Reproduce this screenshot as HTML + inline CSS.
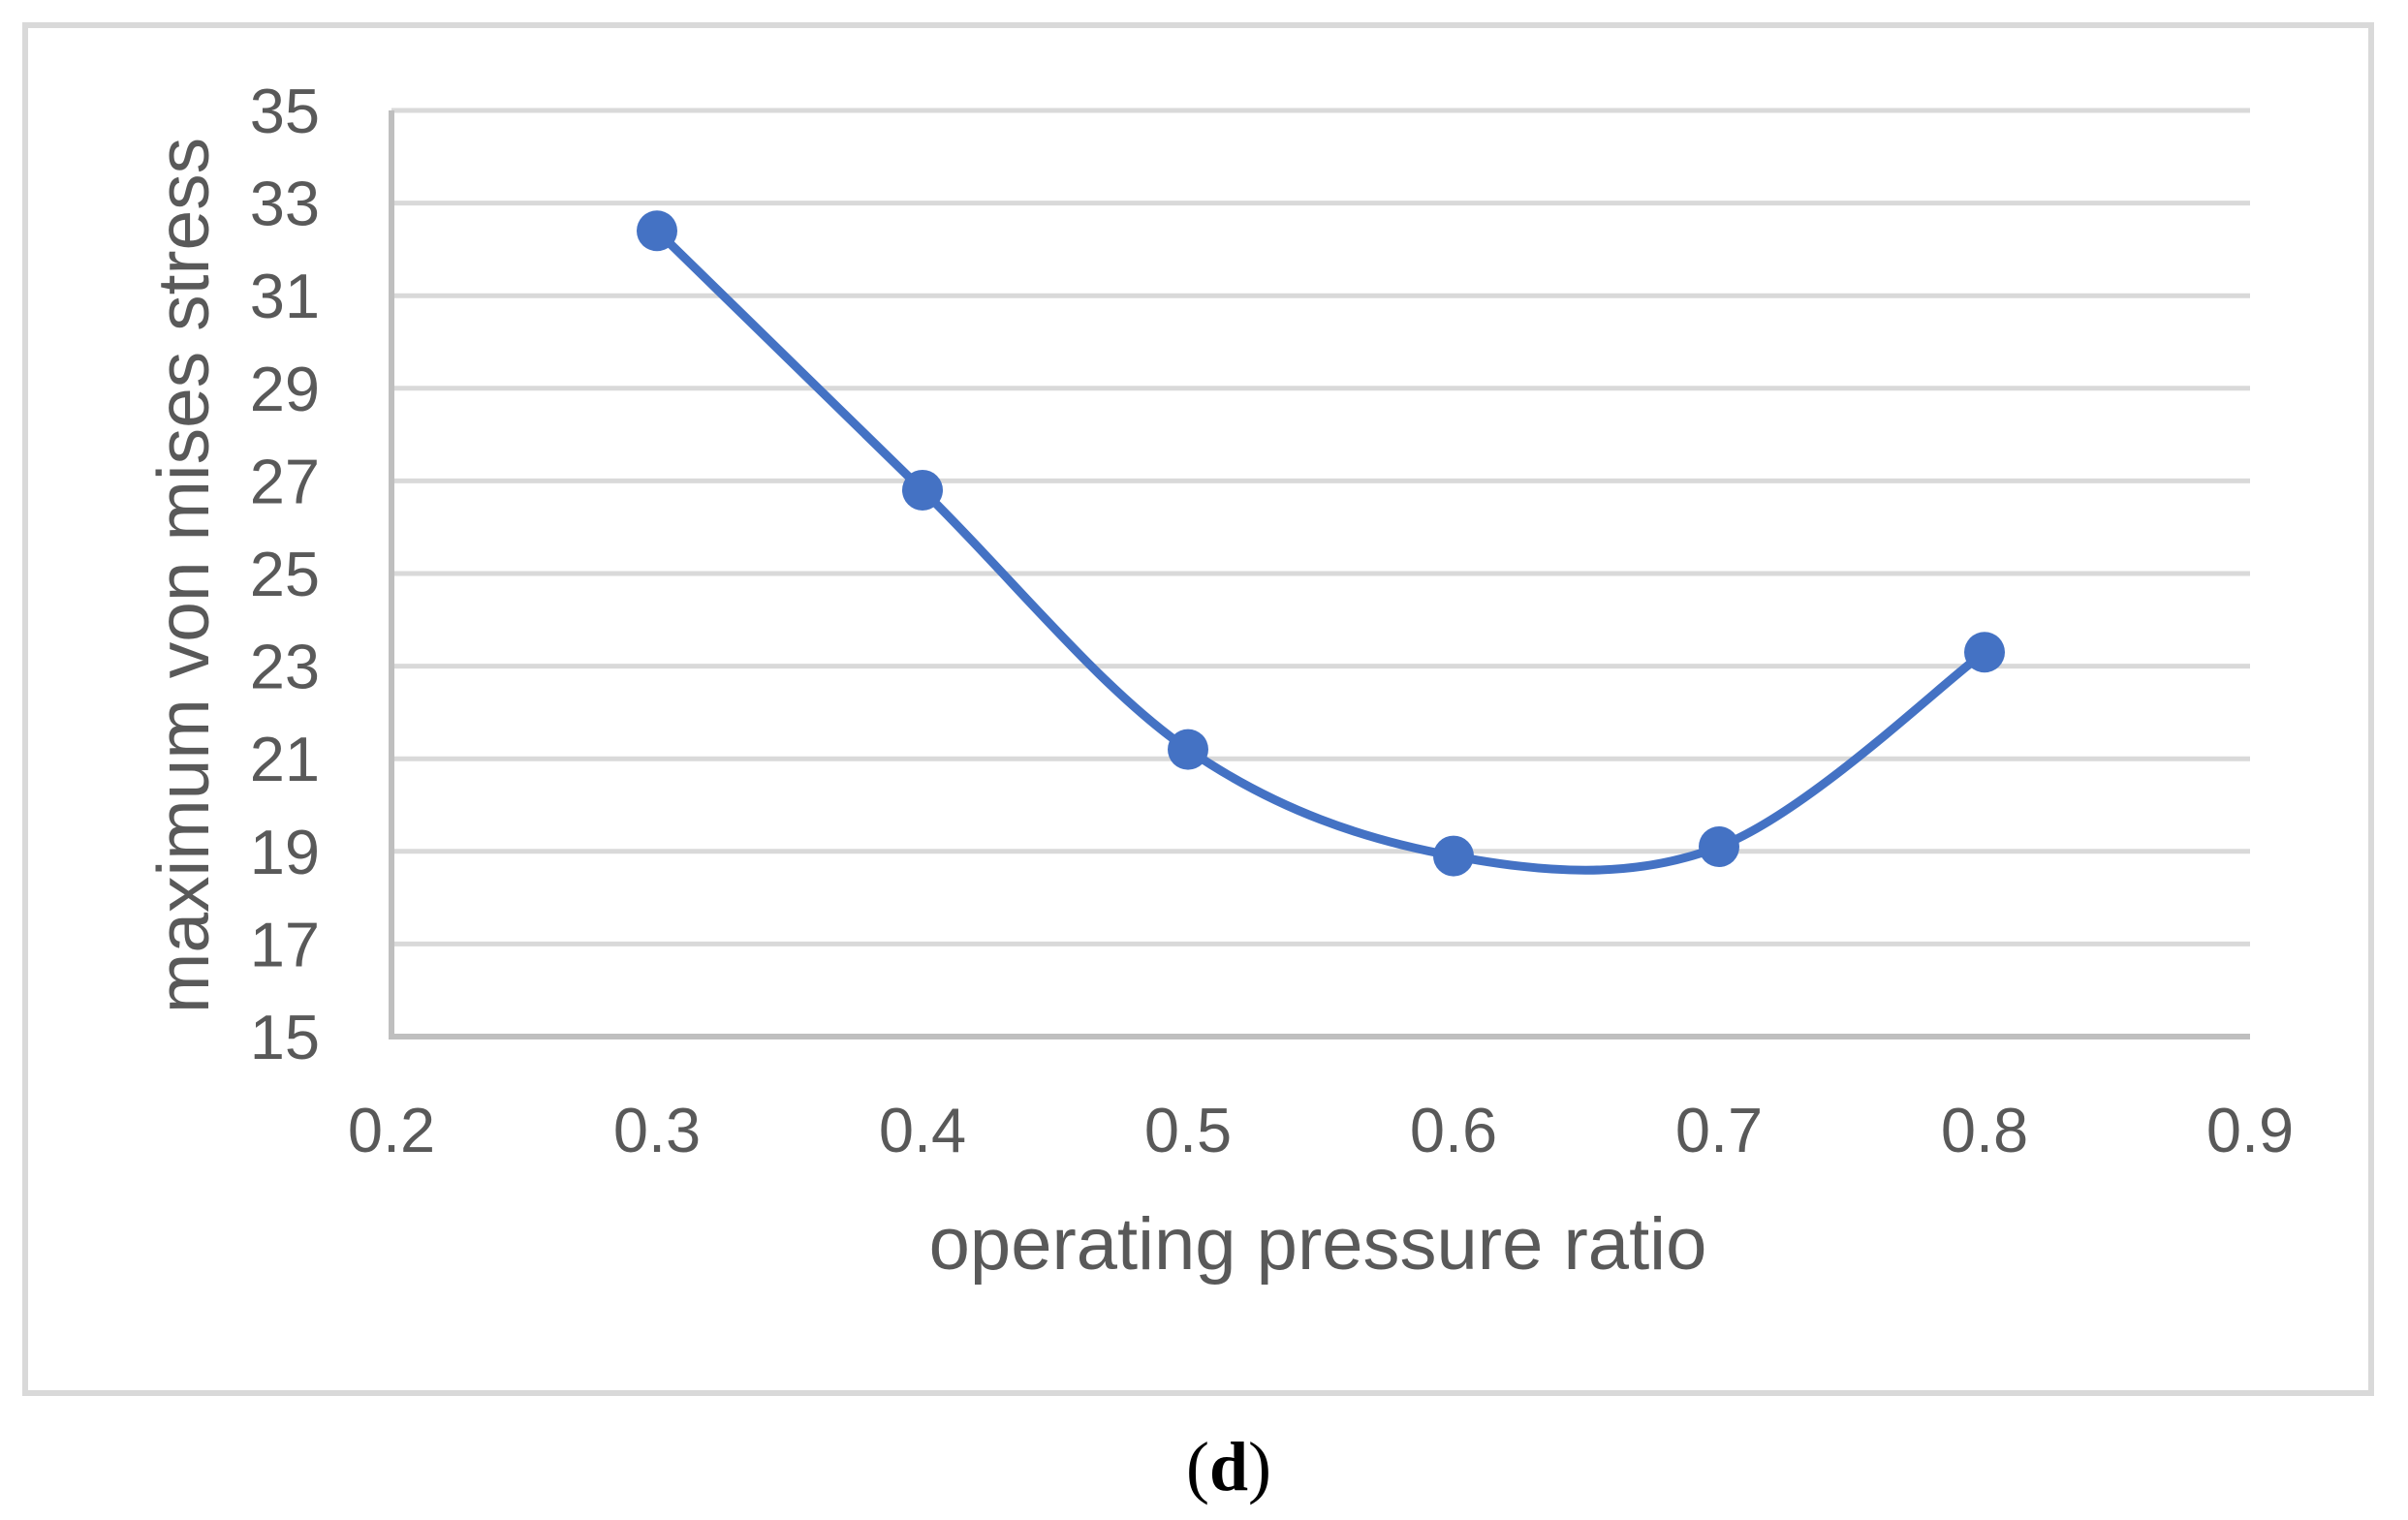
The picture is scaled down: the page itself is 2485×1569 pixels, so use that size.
<!DOCTYPE html>
<html><head><meta charset="utf-8"><style>
html,body{margin:0;padding:0;background:#fff;}
svg{display:block;}
text{font-family:"Liberation Sans",sans-serif;fill:#595959;}
</style></head><body>
<svg id="chart" width="2485" height="1569" viewBox="0 0 2485 1569">
<rect x="26" y="26" width="2421" height="1412" fill="#fff" stroke="#d9d9d9" stroke-width="6"/>
<g id="grid"></g>
<g id="axes"></g>
<g id="series"></g>
<text x="1360" y="1310" font-size="76" text-anchor="middle">operating pressure ratio</text>
<text transform="translate(215,594) rotate(-90)" font-size="75" text-anchor="middle">maximum von mises stress</text>
<text x="1268" y="1538" font-size="72" text-anchor="middle" style="font-family:'Liberation Serif',serif;fill:#000;">(<tspan font-weight="bold">d</tspan>)</text>
</svg>
<script>
const xValues=[0.3,0.4,0.5,0.6,0.7,0.8];
const yValues=[32.4,26.8,21.2,18.9,19.1,23.3];
const yTicks=[15,17,19,21,23,25,27,29,31,33,35];
const xTicks=[0.2,0.3,0.4,0.5,0.6,0.7,0.8,0.9];
const X0=404,X1=2322,Y0=1070,Y1=114;
const xMin=0.2,xMax=0.9,yMin=15,yMax=35;
function sx(v){return X0+(v-xMin)/(xMax-xMin)*(X1-X0);}
function sy(v){return Y0-(v-yMin)/(yMax-yMin)*(Y0-Y1);}
const NS="http://www.w3.org/2000/svg";
function mk(tag,attrs,parent){const e=document.createElementNS(NS,tag);for(const k in attrs)e.setAttribute(k,attrs[k]);parent.appendChild(e);return e;}
const grid=document.getElementById('grid'),axes=document.getElementById('axes'),series=document.getElementById('series');
yTicks.forEach(t=>{
  if(t!==yMin){const l=mk('line',{x1:X0,x2:X1,y1:sy(t),y2:sy(t),stroke:'#d9d9d9','stroke-width':5},grid);
  
  }
  const tx=mk('text',{x:330,y:sy(t)+23,'font-size':65,'text-anchor':'end'},axes);
  tx.textContent=t;
  
  
});
xTicks.forEach(t=>{
  const tx=mk('text',{x:sx(t),y:1189,'font-size':65,'text-anchor':'middle'},axes);
  tx.textContent=t.toFixed(1);
  
  
});
const ya=mk('line',{x1:X0,x2:X0,y1:Y1,y2:Y0+3,stroke:'#bfbfbf','stroke-width':6},axes);


const xa=mk('line',{x1:X0-3,x2:X1,y1:Y0,y2:Y0,stroke:'#bfbfbf','stroke-width':6},axes);


const P=xValues.map((x,i)=>[sx(x),sy(yValues[i])]);
let d='M'+P[0][0]+','+P[0][1];
for(let i=0;i<P.length-1;i++){
  const p0=P[Math.max(0,i-1)],p1=P[i],p2=P[i+1],p3=P[Math.min(P.length-1,i+2)];
  const c1=[p1[0]+(p2[0]-p0[0])/6,p1[1]+(p2[1]-p0[1])/6];
  const c2=[p2[0]-(p3[0]-p1[0])/6,p2[1]-(p3[1]-p1[1])/6];
  d+=' C'+c1[0]+','+c1[1]+' '+c2[0]+','+c2[1]+' '+p2[0]+','+p2[1];
}
const line=mk('path',{d:d,fill:'none',stroke:'#4472C4','stroke-width':9,'stroke-linecap':'round'},series);


P.forEach(p=>{
  const c=mk('circle',{cx:p[0],cy:p[1],r:21,fill:'#4472C4'},series);
  
  
});
</script>
</body></html>
